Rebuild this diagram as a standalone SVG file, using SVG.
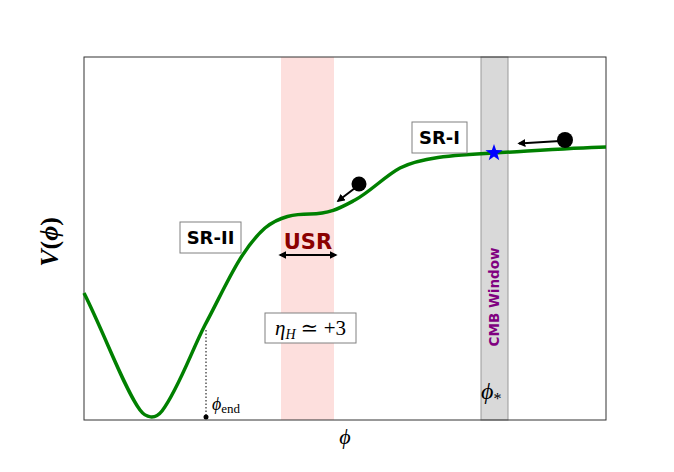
<svg xmlns="http://www.w3.org/2000/svg" width="674" height="472" viewBox="0 0 674 472">
<style>
.lbl{font-family:"DejaVu Sans","Liberation Sans",sans-serif;font-weight:bold;font-size:18px;fill:#000}
.box{fill:#fff;stroke:#808080;stroke-width:1}
.math{font-family:"Liberation Serif","DejaVu Serif",serif;fill:#000}
.arr{stroke:#000;stroke-width:2;fill:none}
</style>
<defs>
<marker id="ah" viewBox="0 0 10 10" refX="8" refY="5" markerWidth="4" markerHeight="4" orient="auto-start-reverse">
<path d="M0,0 L10,5 L0,10 z" fill="#000"/>
</marker>
</defs>
<rect width="674" height="472" fill="#fff"/>
<g id="bands">
<rect x="281" y="57" width="53" height="363" fill="#fdd9d7" opacity="0.85"/>
<rect x="481" y="57" width="27" height="363" fill="#d9d9d9" stroke="#999" stroke-width="1"/>
</g>
<g id="axes">
<rect x="84" y="57" width="522" height="363" fill="none" stroke="#333" stroke-width="1"/>
</g>
<g id="curve">
<path d="M84,293 C105,335 125,390 140,410 C146,418 155,420 162,411 C178,390 192,350 205,325 C225,288 240,250 265,228 C280,216 295,214 310,214 C330,214 340,208 355,200 C370,192 385,176 400,168 C420,158 450,155 494,153 C530,151 570,148 606,147" fill="none" stroke="#008000" stroke-width="3.5"/>
</g>
<g id="connectors">
<line class="arr" x1="355" y1="188" x2="338" y2="201" marker-end="url(#ah)"/>
<line class="arr" x1="560" y1="141" x2="519" y2="143.5" marker-end="url(#ah)"/>
<line class="arr" x1="280" y1="255" x2="336" y2="255" marker-start="url(#ah)" marker-end="url(#ah)"/>
<line x1="206" y1="330" x2="206" y2="417" stroke="#000" stroke-width="1" stroke-dasharray="1.5,2"/>
</g>
<g id="balls">
<circle cx="359" cy="184" r="7.5" fill="#000"/>
<circle cx="565" cy="140" r="8" fill="#000"/>
<circle cx="206" cy="417" r="2.5" fill="#000"/>
</g>
<g id="star">
<polygon points="494,144 496.1,150.1 502.6,150.2 497.4,154.1 499.3,160.3 494,156.6 488.7,160.3 490.6,154.1 485.4,150.2 491.9,150.1" fill="#0000ff"/>
</g>
<g id="sr1">
<rect class="box" x="412" y="122" width="55" height="31"/>
<text class="lbl" x="439.5" y="144" text-anchor="middle">SR-I</text>
</g>
<g id="sr2">
<rect class="box" x="180" y="222" width="61" height="31"/>
<text class="lbl" x="210.5" y="244" text-anchor="middle">SR-II</text>
</g>
<g id="usr">
<text x="308" y="249" text-anchor="middle" font-family="DejaVu Sans,Liberation Sans,sans-serif" font-weight="bold" font-size="21" fill="#8b0000">USR</text>
</g>
<g id="eta">
<rect class="box" x="265" y="313" width="91" height="30"/>
<text class="math" x="310.5" y="335" text-anchor="middle" font-size="21"><tspan font-style="italic">η</tspan><tspan font-style="italic" font-size="14" dy="4">H</tspan><tspan dy="-4"> ≃ +3</tspan></text>
</g>
<g id="cmb">
<text transform="translate(499,297) rotate(-90)" text-anchor="middle" font-family="DejaVu Sans,Liberation Sans,sans-serif" font-weight="bold" font-size="13.5" fill="#800080">CMB Window</text>
<text class="math" x="481" y="399" font-size="24" font-style="italic">ϕ<tspan font-style="normal" font-size="16" dy="5">*</tspan></text>
</g>
<g id="phiend">
<text class="math" x="212" y="410" font-size="18" font-style="italic">ϕ<tspan font-style="normal" font-size="13" dy="3">end</tspan></text>
</g>
<g id="axislabels">
<text class="math" x="345" y="444" text-anchor="middle" font-size="22" font-style="italic">ϕ</text>
<text class="math" transform="translate(58,242) rotate(-90)" text-anchor="middle" font-size="26" font-weight="bold"><tspan font-style="italic">V</tspan>(<tspan font-style="italic">ϕ</tspan>)</text>
</g>
</svg>
